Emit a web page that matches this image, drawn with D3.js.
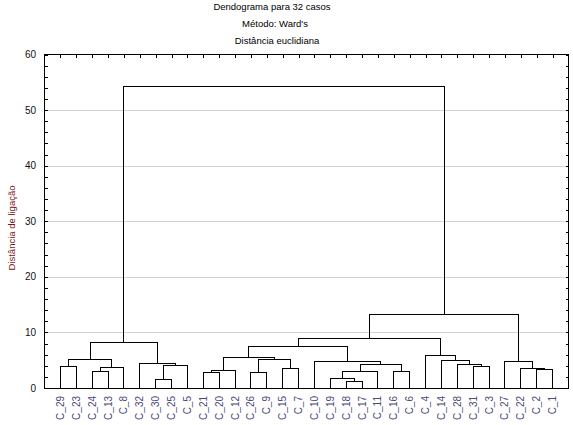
<!DOCTYPE html>
<html>
<head>
<meta charset="utf-8">
<script src="https://cdn.jsdelivr.net/npm/d3@7"></script>
<style>
  html, body { margin: 0; padding: 0; background: #fff; }
  svg { display: block; }
  text { font-family: "Liberation Sans", Arial, sans-serif; }
</style>
</head>
<body>
<svg id="chart" width="573" height="425"></svg>
<script>
// ---- Data ----
const titles = ["Dendograma para 32 casos", "Método: Ward's", "Distância euclidiana"];
const yAxisTitle = "Distância de ligação";
const yTicks = [0, 10, 20, 30, 40, 50, 60];
const leaves = ["C_29","C_23","C_24","C_13","C_8","C_32","C_30","C_25","C_5",
  "C_21","C_20","C_12","C_26","C_9","C_15","C_7","C_10","C_19","C_18","C_17",
  "C_11","C_16","C_6","C_4","C_14","C_28","C_31","C_3","C_27","C_22","C_2","C_1"];
// merges: [left, right, linkage distance]; numbers refer to earlier merges (index)
const merges = [
  ["C_29", "C_23", 3.9],   // 0
  ["C_24", "C_13", 3.0],   // 1
  [1, "C_8", 3.7],         // 2
  [0, 2, 5.2],             // 3
  ["C_30", "C_25", 1.6],   // 4
  [4, "C_5", 4.1],         // 5
  ["C_32", 5, 4.45],       // 6
  [3, 6, 8.2],             // 7
  ["C_21", "C_20", 2.85],  // 8
  [8, "C_12", 3.2],        // 9
  ["C_26", "C_9", 2.85],   // 10
  ["C_15", "C_7", 3.55],   // 11
  [10, 11, 5.15],          // 12
  [9, 12, 5.5],            // 13
  ["C_18", "C_17", 1.2],   // 14
  ["C_19", 14, 1.75],      // 15
  [15, "C_11", 3.05],      // 16
  ["C_16", "C_6", 2.95],   // 17
  [16, 17, 4.27],          // 18
  ["C_10", 18, 4.85],      // 19
  [13, 19, 7.5],           // 20
  ["C_31", "C_3", 3.85],   // 21
  ["C_28", 21, 4.27],      // 22
  ["C_14", 22, 5.0],       // 23
  ["C_4", 23, 5.9],        // 24
  [20, 24, 8.95],          // 25
  ["C_2", "C_1", 3.37],    // 26
  ["C_22", 26, 3.55],      // 27
  ["C_27", 27, 4.85],      // 28
  [25, 28, 13.3],          // 29
  [7, 29, 54.3]            // 30
];

// ---- Layout ----
const svg = d3.select("#chart");
const L = 44.5, R = 568.5, T = 54.5, B = 388;

const x = d3.scaleLinear().domain([0, leaves.length + 1]).range([L, R]);
const y = d3.scaleLinear().domain([0, 60]).range([B, T]);

// Build hierarchy from merges
function toNode(ref) {
  if (typeof ref === "string") return { name: ref, height: 0 };
  const m = merges[ref];
  return { name: "m" + ref, height: m[2], children: [toNode(m[0]), toNode(m[1])] };
}
const root = d3.hierarchy(toNode(merges.length - 1));
root.eachAfter(n => {
  if (!n.children) n.px = x(leaves.indexOf(n.data.name) + 1);
  else n.px = (n.children[0].px + n.children[1].px) / 2;
  n.py = y(n.data.height);
});

// Gridlines
svg.append("g").selectAll("line")
  .data(yTicks.filter(t => t > 0 && t < 60))
  .join("line")
  .attr("x1", L).attr("x2", R)
  .attr("y1", d => Math.round(y(d)) + 0.5).attr("y2", d => Math.round(y(d)) + 0.5)
  .attr("stroke", "#cfd6cf").attr("stroke-width", 1);

// Dendrogram links
const g = svg.append("g").attr("stroke", "#000").attr("stroke-width", 1)
  .attr("fill", "none").attr("shape-rendering", "crispEdges");
root.descendants().filter(n => n.children).forEach(n => {
  const [a, b] = n.children;
  g.append("path").attr("d",
    `M${a.px},${a.py}V${n.py}H${b.px}V${b.py}`);
});

// Frame
svg.append("rect").attr("x", L).attr("y", T).attr("width", R - L).attr("height", B - T)
  .attr("fill", "none").attr("stroke", "#000").attr("stroke-width", 1)
  .attr("shape-rendering", "crispEdges");

// Left / right axis ticks (inside)
const yAxisL = d3.axisLeft(y).tickValues(d3.range(0, 61, 2)).tickSize(-3).tickFormat("");
svg.append("g").attr("transform", `translate(${L},0)`).call(yAxisL)
  .call(s => s.select(".domain").remove())
  .call(s => s.selectAll("line").attr("stroke", "#000").attr("shape-rendering", "crispEdges"));
const yAxisR = d3.axisRight(y).tickValues(d3.range(0, 61, 2)).tickSize(-3).tickFormat("");
svg.append("g").attr("transform", `translate(${R},0)`).call(yAxisR)
  .call(s => s.select(".domain").remove())
  .call(s => s.selectAll("line").attr("stroke", "#000").attr("shape-rendering", "crispEdges"));
// Top ticks at leaf positions
const xAxisT = d3.axisTop(x).tickValues(d3.range(1, leaves.length + 1)).tickSize(-3).tickFormat("");
svg.append("g").attr("transform", `translate(0,${T})`).call(xAxisT)
  .call(s => s.select(".domain").remove())
  .call(s => s.selectAll("line").attr("stroke", "#000").attr("shape-rendering", "crispEdges"));

// Y tick labels
svg.append("g").selectAll("text").data(yTicks).join("text")
  .attr("x", 36).attr("y", d => y(d))
  .attr("dy", "0.35em").attr("text-anchor", "end")
  .attr("font-size", 10).attr("fill", "#111")
  .text(d => d);

// Leaf labels
svg.append("g").selectAll("text").data(leaves).join("text")
  .attr("transform", (d, i) => `translate(${x(i + 1)},396) rotate(-90)`)
  .attr("text-anchor", "end").attr("dy", "0.35em")
  .attr("font-size", 10).attr("fill", "#4a4a78")
  .text(d => d);

// Titles
const titleX = [272, 275, 277];
const titleY = [10, 27, 44];
svg.append("g").selectAll("text").data(titles).join("text")
  .attr("x", (d, i) => titleX[i]).attr("y", (d, i) => titleY[i])
  .attr("text-anchor", "middle").attr("font-size", 9.5).attr("fill", "#000")
  .text(d => d);

// Y axis title
svg.append("text")
  .attr("transform", "translate(11.5,228) rotate(-90)")
  .attr("text-anchor", "middle").attr("dy", "0.35em")
  .attr("font-size", 9.5).attr("fill", "#7a1515")
  .text(yAxisTitle);
</script>
</body>
</html>
